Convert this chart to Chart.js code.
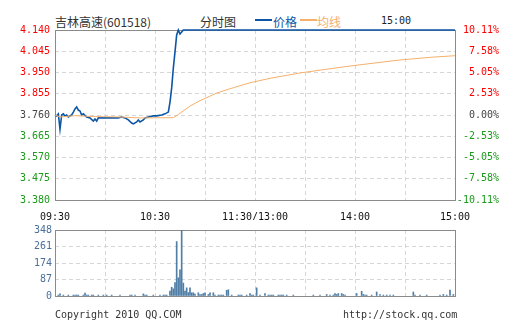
<!DOCTYPE html>
<html>
<head>
<meta charset="utf-8">
<script src="https://cdn.jsdelivr.net/npm/chart.js@4"></script>
<style>
  body { margin: 0; background: #fff; width: 505px; height: 330px; overflow: hidden; position: relative; }
  .t { position: absolute; white-space: nowrap; line-height: 1; }
  .cjk { font: 12px 'Noto Sans CJK SC', sans-serif; }
  .mono { font: 10px 'DejaVu Sans Mono', monospace; }
  .dash { position: absolute; height: 2px; width: 17px; }
  #priceWrap { position: absolute; left: 0; top: 0; width: 505px; height: 230px; }
  #volWrap { position: absolute; left: 0; top: 220px; width: 505px; height: 85px; }
</style>
</head>
<body>
<span class="t cjk" style="left:55px;top:13px;color:#333">吉林高速(601518)</span>
<span class="t cjk" style="left:200px;top:13px;color:#333">分时图</span>
<div class="dash" style="left:255px;top:19px;background:#0d56a6"></div>
<span class="t cjk" style="left:273px;top:13px;color:#0d56a6">价格</span>
<div class="dash" style="left:300px;top:19px;background:#f5b06c"></div>
<span class="t cjk" style="left:317px;top:13px;color:#f5b06c">均线</span>
<span class="t mono" style="left:381px;top:15px;color:#222">15:00</span>

<div id="priceWrap"><canvas id="priceChart"></canvas></div>
<div id="volWrap"><canvas id="volChart"></canvas></div>

<span class="t mono" style="left:55px;top:309px;color:#333">Copyright 2010 QQ.COM</span>
<span class="t mono" style="left:343px;top:309px;color:#333">http://stock.qq.com</span>

<script>
// ---- data (minute index from 09:30, 0..240) ----
const priceMin = [0,1,2,3,4,5,6,7,8,10,11,12,13,14,15,16,17,19,21,23,24,25,26,28,31,34,38,40,42,44,46,47,49,50,51,53,54,56,59,61,64,66,68,69,70,71,72,73,74,75,76,77,240];
const priceVal = [3.760,3.756,3.765,3.697,3.760,3.765,3.756,3.760,3.751,3.760,3.773,3.787,3.796,3.782,3.778,3.760,3.765,3.751,3.747,3.733,3.742,3.733,3.747,3.747,3.747,3.747,3.747,3.751,3.747,3.738,3.724,3.720,3.729,3.738,3.729,3.738,3.747,3.751,3.756,3.756,3.760,3.765,3.773,3.818,3.881,3.970,4.042,4.118,4.140,4.122,4.131,4.140,4.140];

const avgMin = [0,3,12,23,39,51,71,74,81,87,97,107,117,129,147,177,207,227,240];
const avgVal = [3.760,3.751,3.757,3.753,3.751,3.747,3.748,3.762,3.800,3.824,3.858,3.882,3.904,3.924,3.948,3.979,4.006,4.019,4.025];

const volMin = [2,3,5,8,11,12,13,14,17,18,19,20,22,23,26,29,31,34,39,45,46,48,53,54,55,59,63,65,66,67,69,70,71,72,73,74,75,76,77,78,79,80,81,82,83,84,86,87,88,89,90,92,93,95,96,98,99,100,101,103,104,106,110,111,112,115,117,118,119,121,123,126,128,129,130,131,134,135,136,137,139,143,155,159,163,165,167,168,169,170,172,173,174,181,184,185,186,187,190,193,195,197,199,201,203,215,216,219,223,231,233,235,237,239];
const volVal = [5,11,5,5,5,5,5,5,5,16,5,5,5,5,5,5,5,5,5,5,5,5,11,5,5,5,5,5,5,5,26,46,38,71,287,96,138,348,68,26,43,18,43,17,17,10,17,8,8,13,17,8,17,17,5,5,5,5,5,30,33,5,5,5,5,5,13,5,5,43,5,13,5,5,5,5,5,5,5,5,5,5,5,5,8,5,5,13,8,13,13,8,5,13,25,8,5,5,5,21,8,5,5,5,5,21,5,5,5,5,8,5,31,8];

const priceTicks = [3.380,3.475,3.570,3.665,3.760,3.855,3.950,4.045,4.140];
const pctLabels  = ['-10.11%','-7.58%','-5.05%','-2.53%','0.00%','2.53%','5.05%','7.58%','10.11%'];
const volTicks   = [0,87,174,261,348];
const timeLabels = { 0: '09:30', 60: '10:30', 120: '11:30/13:00', 180: '14:00', 240: '15:00' };

const PREV = 3.760;
const GRID = '#d6d6d6';
const MONO = { family: "'DejaVu Sans Mono', monospace", size: 10 };

Chart.defaults.animation = false;
Chart.defaults.responsive = true;
Chart.defaults.maintainAspectRatio = false;

// frame round the plot area
const frame = {
    id: 'frame',
    beforeDatasetsDraw(chart) {
        const a = chart.chartArea, ctx = chart.ctx;
        ctx.save();
        ctx.strokeStyle = '#8a8a8a';
        ctx.lineWidth = 1;
        ctx.strokeRect(a.left + 0.5, a.top + 0.5, a.right - a.left, a.bottom - a.top);
        ctx.restore();
    }
};

function priceColor(v) {
    if (Math.abs(v - PREV) < 1e-6) return '#444';
    return v > PREV ? '#ff0000' : '#1a9a1a';
}

function setTicks(list) {
    return scale => { scale.ticks = list.map(v => ({ value: v })); };
}

new Chart(document.getElementById('priceChart'), {
    type: 'line',
    data: {
        datasets: [
            {
                data: avgMin.map((m, i) => ({ x: m, y: avgVal[i] })),
                borderColor: '#f5b06c', borderWidth: 1, pointRadius: 0, tension: 0, clip: 3
            },
            {
                data: priceMin.map((m, i) => ({ x: m, y: priceVal[i] })),
                borderColor: '#0d56a6', borderWidth: 1.6, pointRadius: 0, tension: 0, clip: 3
            }
        ]
    },
    options: {
        layout: { padding: { top: 30, right: 6, bottom: 10, left: 0 } },
        plugins: { legend: { display: false }, tooltip: { enabled: false } },
        scales: {
            x: {
                type: 'linear', min: 0, max: 240,
                afterBuildTicks: setTicks([0,30,60,90,120,150,180,210,240]),
                afterFit: s => { s.height = 20; },
                grid: { color: GRID, drawTicks: false },
                border: { display: false, dash: [4, 3] },
                ticks: {
                    font: MONO, color: '#111', padding: 11, maxRotation: 0, autoSkip: false,
                    callback: v => timeLabels[v] || ''
                }
            },
            y: {
                position: 'left', min: 3.38, max: 4.14,
                afterBuildTicks: setTicks(priceTicks),
                afterFit: s => { s.width = 55; },
                grid: { color: GRID, drawTicks: false },
                border: { display: false, dash: [4, 3] },
                ticks: {
                    font: MONO, padding: 5,
                    color: c => priceColor(c.tick.value),
                    callback: v => v.toFixed(3)
                }
            },
            y2: {
                position: 'right', min: 3.38, max: 4.14,
                afterBuildTicks: setTicks(priceTicks),
                afterFit: s => { s.width = 44; },
                grid: { display: false, drawTicks: false },
                border: { display: false },
                ticks: {
                    font: MONO, padding: 2, crossAlign: 'far',
                    color: c => priceColor(c.tick.value),
                    callback: (v, i) => pctLabels[i]
                }
            }
        }
    },
    plugins: [frame]
});

new Chart(document.getElementById('volChart'), {
    type: 'bar',
    data: {
        datasets: [{
            data: volMin.map((m, i) => ({ x: m, y: volVal[i] })),
            backgroundColor: '#4f7ea6', barThickness: 1, grouped: false
        }]
    },
    options: {
        layout: { padding: { top: 10, right: 50, bottom: 5, left: 0 } },
        plugins: { legend: { display: false }, tooltip: { enabled: false } },
        scales: {
            x: {
                type: 'linear', min: 0, max: 240, offset: false,
                afterBuildTicks: setTicks([0,30,60,90,120,150,180,210,240]),
                afterFit: s => { s.height = 0; },
                grid: { color: GRID, drawTicks: false, offset: false },
                border: { display: false, dash: [4, 3] },
                ticks: { display: false }
            },
            y: {
                min: 0, max: 348,
                afterBuildTicks: setTicks(volTicks),
                afterFit: s => { s.width = 55; },
                grid: { color: GRID, drawTicks: false },
                border: { display: false, dash: [4, 3] },
                ticks: { font: MONO, color: '#4a6f9a', padding: 3 }
            }
        }
    },
    plugins: [frame]
});
</script>
</body>
</html>
